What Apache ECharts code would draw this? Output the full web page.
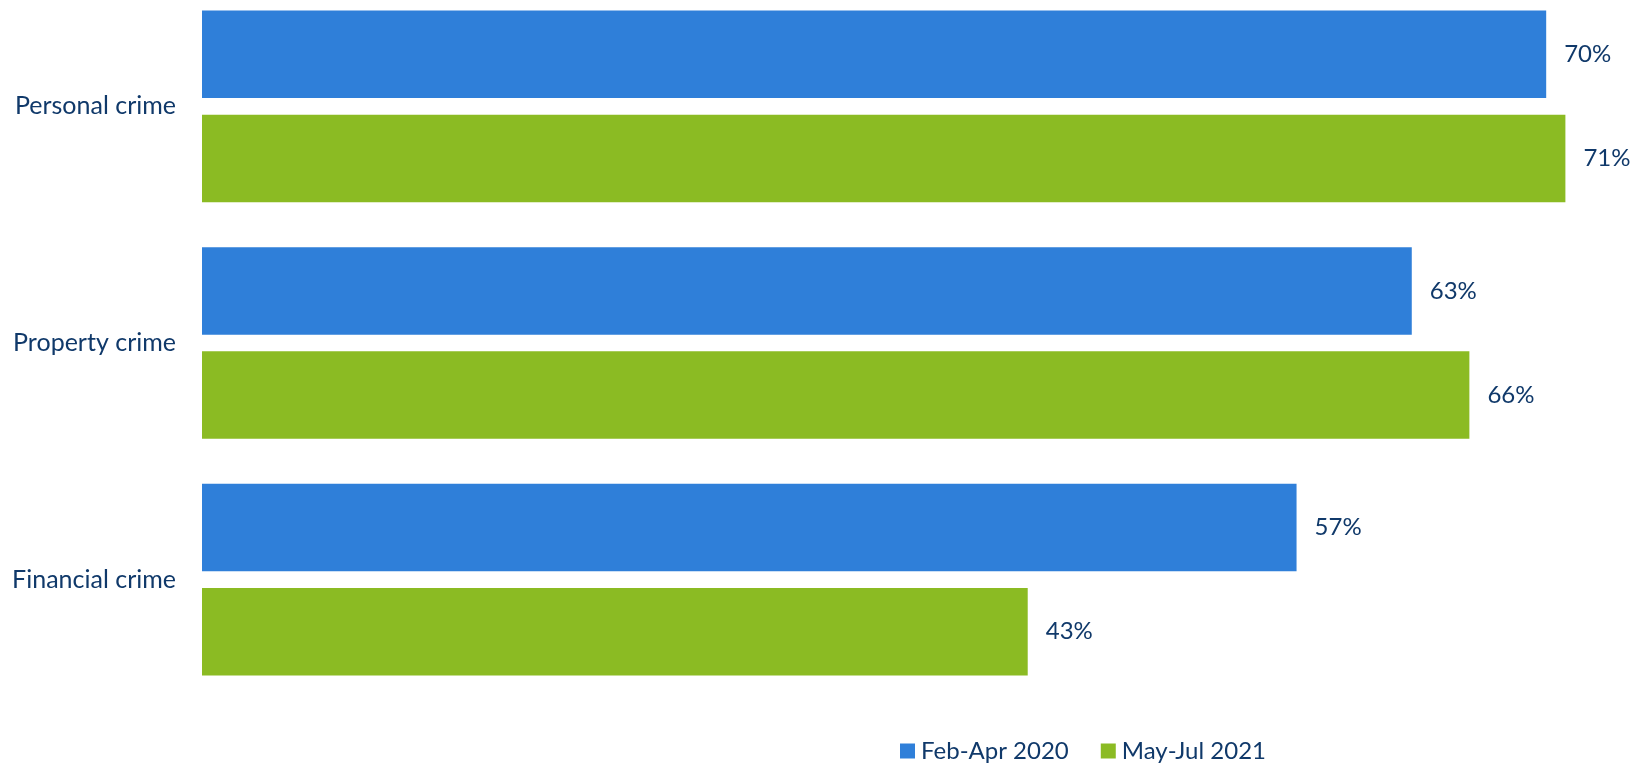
<!DOCTYPE html>
<html>
<head>
<meta charset="utf-8">
<script src="https://cdn.jsdelivr.net/npm/echarts@6/dist/echarts.min.js"></script>
<style>
  html, body { margin: 0; padding: 0; background: #ffffff; overflow: hidden; }
  /* the canvas is taller than the window and shifted up so the first band can start above the top edge */
  #chart { width: 1635px; height: 813px; margin-top: -50px; }
</style>
</head>
<body>
<div id="chart"></div>
<script>
// Crime categories, listed top to bottom
const categories = ['Personal crime', 'Property crime', 'Financial crime'];
// Share (%) per period
const feb2020 = [70, 63, 57];
const may2021 = [71, 66, 43];
const seriesNames = ['Feb-Apr 2020', 'May-Jul 2021'];

const TEXT = '#10396a';
const FONT = 'Lato';

const chart = echarts.init(document.getElementById('chart'), null, { renderer: 'canvas' });

const labelStyle = {
  show: true,
  position: 'right',
  distance: 18,
  color: TEXT,
  fontFamily: FONT,
  fontSize: 24,
  formatter: p => p.value + '%'
};

chart.setOption({
  animation: false,
  backgroundColor: '#ffffff',
  textStyle: { fontFamily: FONT },
  legend: {
    data: seriesNames,
    left: 895,
    top: 784,
    itemWidth: 15,
    itemHeight: 15,
    itemGap: 32,
    icon: 'rect',
    textStyle: { color: TEXT, fontFamily: FONT, fontSize: 24, padding: [0, 0, 0, 1] }
  },
  grid: {
    left: 202,
    top: 38,
    width: 1421,
    height: 710,
    containLabel: false
  },
  xAxis: {
    type: 'value',
    min: 0,
    max: 74,
    show: false
  },
  yAxis: {
    type: 'category',
    data: categories,
    inverse: true,
    axisLine: { show: false },
    axisTick: { show: false },
    axisLabel: {
      color: TEXT,
      fontFamily: FONT,
      fontSize: 25,
      margin: 26
    }
  },
  series: [
    {
      name: seriesNames[0],
      type: 'bar',
      data: feb2020,
      barGap: '19%',
      barCategoryGap: '19%',
      itemStyle: { color: '#2f7fd9' },
      label: labelStyle
    },
    {
      name: seriesNames[1],
      type: 'bar',
      data: may2021,
      barGap: '19%',
      barCategoryGap: '19%',
      itemStyle: { color: '#8bbb23' },
      label: labelStyle
    }
  ]
});
</script>
</body>
</html>
